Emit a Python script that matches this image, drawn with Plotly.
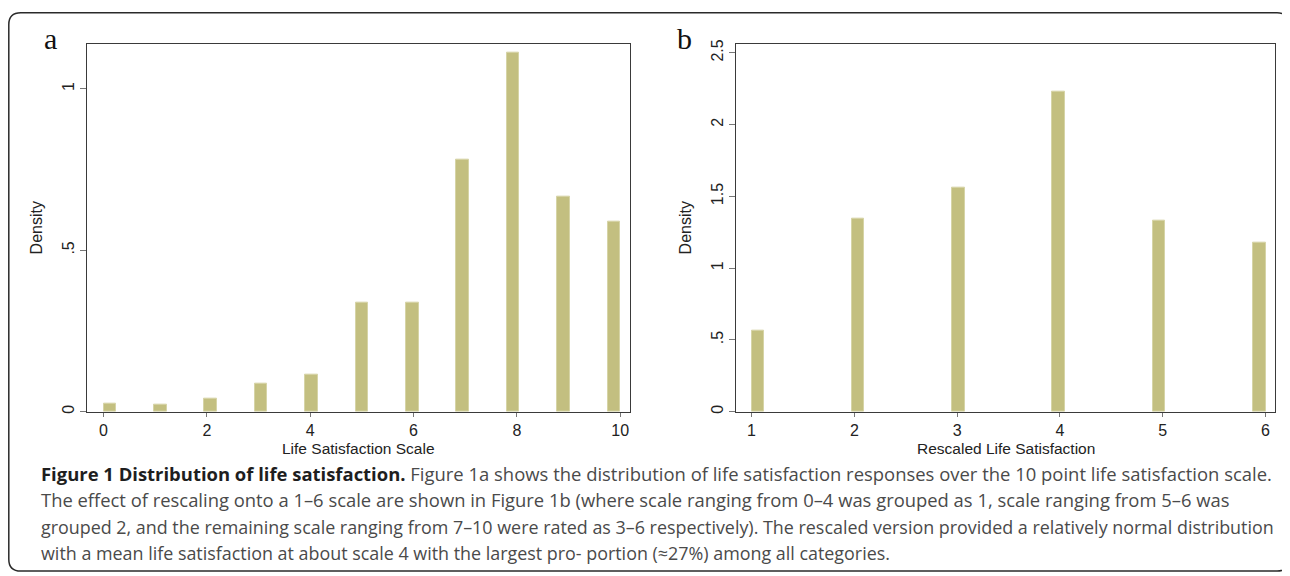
import math
import plotly.graph_objects as go

# ---------------- data ----------------
scale_a = [0, 1, 2, 3, 4, 5, 6, 7, 8, 9, 10]
density_a = [0.0255, 0.021, 0.041, 0.086, 0.115, 0.338, 0.337, 0.780, 1.112, 0.667, 0.589]

scale_b = [1, 2, 3, 4, 5, 6]
density_b = [0.568, 1.345, 1.562, 2.227, 1.334, 1.179]

xticks_a = [0, 2, 4, 6, 8, 10]
yticks_a = [0, 0.5, 1]
yticklabels_a = ["0", ".5", "1"]

xticks_b = [1, 2, 3, 4, 5, 6]
yticks_b = [0, 0.5, 1, 1.5, 2, 2.5]
yticklabels_b = ["0", ".5", "1", "1.5", "2", "2.5"]

xtitle_a = "Life Satisfaction Scale"
xtitle_b = "Rescaled Life Satisfaction"
ytitle = "Density"

caption_bold = "Figure 1 Distribution of life satisfaction."
caption_lines = [
    " Figure 1a shows the distribution of life satisfaction responses over the 10 point life satisfaction scale.",
    "The effect of rescaling onto a 1–6 scale are shown in Figure 1b (where scale ranging from 0–4 was grouped as 1, scale ranging from 5–6 was",
    "grouped 2, and the remaining scale ranging from 7–10 were rated as 3–6 respectively). The rescaled version provided a relatively normal distribution",
    "with a mean life satisfaction at about scale 4 with the largest pro- portion (≈27%) among all categories.",
]

# ---------------- layout constants ----------------
# the page body has an 8px margin, so the figure is drawn 8px smaller and
# reference pixel positions are shifted by that offset
OFF = 8
W, H = 1290 - OFF, 576 - OFF
NBINS = 41
BAR_FILL = "#c3bf80"
BAR_EDGE = "#d6d4a6"
TXT = "#222222"
AXFONT = "Liberation Sans, Arial, sans-serif"
TICKFONT = dict(family=AXFONT, size=16, color=TXT)


def px_x(p):
    return (p - OFF) / W


def px_y(p):
    return 1 - (p - OFF) / H


def hist_bins(vals, lo, hi):
    w = (hi - lo) / NBINS
    starts = []
    for v in vals:
        k = min(int(math.floor((v - lo) / w + 1e-9)), NBINS - 1)
        starts.append(lo + k * w)
    centers = [s + w / 2 for s in starts]
    return centers, w


fig = go.Figure()

ca, wa = hist_bins(scale_a, min(scale_a), max(scale_a))
fig.add_trace(go.Bar(x=ca, y=density_a, width=[wa] * len(ca), xaxis="x", yaxis="y",
                     marker=dict(color=BAR_FILL, line=dict(color=BAR_EDGE, width=1)),
                     showlegend=False, hoverinfo="skip"))

cb, wb = hist_bins(scale_b, min(scale_b), max(scale_b))
fig.add_trace(go.Bar(x=cb, y=density_b, width=[wb] * len(cb), xaxis="x2", yaxis="y2",
                     marker=dict(color=BAR_FILL, line=dict(color=BAR_EDGE, width=1)),
                     showlegend=False, hoverinfo="skip"))

ydom = [px_y(412), px_y(40)]

common_x = dict(showline=True, mirror=True, linecolor="#3a3a3a", linewidth=1,
                ticks="outside", ticklen=4, tickcolor="#777777", tickwidth=1,
                showgrid=False, zeroline=False, tickfont=TICKFONT)
common_y = dict(showline=True, mirror=True, linecolor="#3a3a3a", linewidth=1,
                ticks="outside", ticklen=6, tickcolor="#777777", tickwidth=1,
                showgrid=False, zeroline=False, tickfont=TICKFONT, tickangle=-90,
                title_font=dict(family=AXFONT, size=16, color=TXT))

fig.update_layout(
    width=W, height=H,
    margin=dict(l=0, r=0, t=0, b=0),
    paper_bgcolor="white", plot_bgcolor="white",
    bargap=0,
    xaxis=dict(common_x, domain=[px_x(87), px_x(630)], range=[-0.32, 10.19],
               tickvals=xticks_a, ticktext=[str(t) for t in xticks_a], anchor="y"),
    yaxis=dict(common_y, domain=ydom, range=[0, 1.14], tickvals=yticks_a, ticktext=yticklabels_a,
               title=dict(text=ytitle, standoff=12), anchor="x"),
    xaxis2=dict(common_x, domain=[px_x(736), px_x(1275)], range=[0.849, 6.092],
                tickvals=xticks_b, ticktext=[str(t) for t in xticks_b], anchor="y2"),
    yaxis2=dict(common_y, domain=ydom, range=[0, 2.564], tickvals=yticks_b, ticktext=yticklabels_b,
                title=dict(text=ytitle, standoff=12), anchor="x2"),
)

# x-axis titles
for ax, t in (("x", xtitle_a), ("x2", xtitle_b)):
    fig.add_annotation(text=t, x=0.5, xref=f"{ax} domain", y=px_y(439), yref="paper",
                       xanchor="center", yanchor="top", showarrow=False,
                       font=dict(family=AXFONT, size=15.5, color=TXT))

# panel letters
for letter, xp in (("a", 42), ("b", 675)):
    fig.add_annotation(text=letter, x=px_x(xp), y=px_y(53), xref="paper", yref="paper",
                       xanchor="left", yanchor="bottom", showarrow=False,
                       font=dict(family="Liberation Serif, Times New Roman, serif", size=30, color="#111111"))

# caption
line_y = [474, 501, 528, 555]
line_size = [18.45, 18.4, 17.9, 17.9]
first = "<b><span style='color:#1e1e1e'>" + caption_bold + "</span></b>" + caption_lines[0]
texts = [first] + caption_lines[1:]
for t, yy, fs in zip(texts, line_y, line_size):
    fig.add_annotation(text=t, x=px_x(39), y=px_y(yy), xref="paper", yref="paper",
                       xanchor="left", yanchor="middle", showarrow=False,
                       font=dict(family="Open Sans, sans-serif", size=fs, color="#4a4a4a"))

# rounded outer frame
x0, x1 = px_x(8.8), px_x(1289)
yt, yb = px_y(8.8), px_y(573)
rx, ry = 12 / W, 12 / H
path = (f"M {x0+rx},{yt} L {x1-rx},{yt} Q {x1},{yt} {x1},{yt-ry} "
        f"L {x1},{yb+ry} Q {x1},{yb} {x1-rx},{yb} L {x0+rx},{yb} Q {x0},{yb} {x0},{yb+ry} "
        f"L {x0},{yt-ry} Q {x0},{yt} {x0+rx},{yt} Z")
fig.add_shape(type="path", path=path, xref="paper", yref="paper",
              line=dict(color="#2a2a2a", width=1.5), fillcolor="rgba(0,0,0,0)")

fig.write_html("out.html")
